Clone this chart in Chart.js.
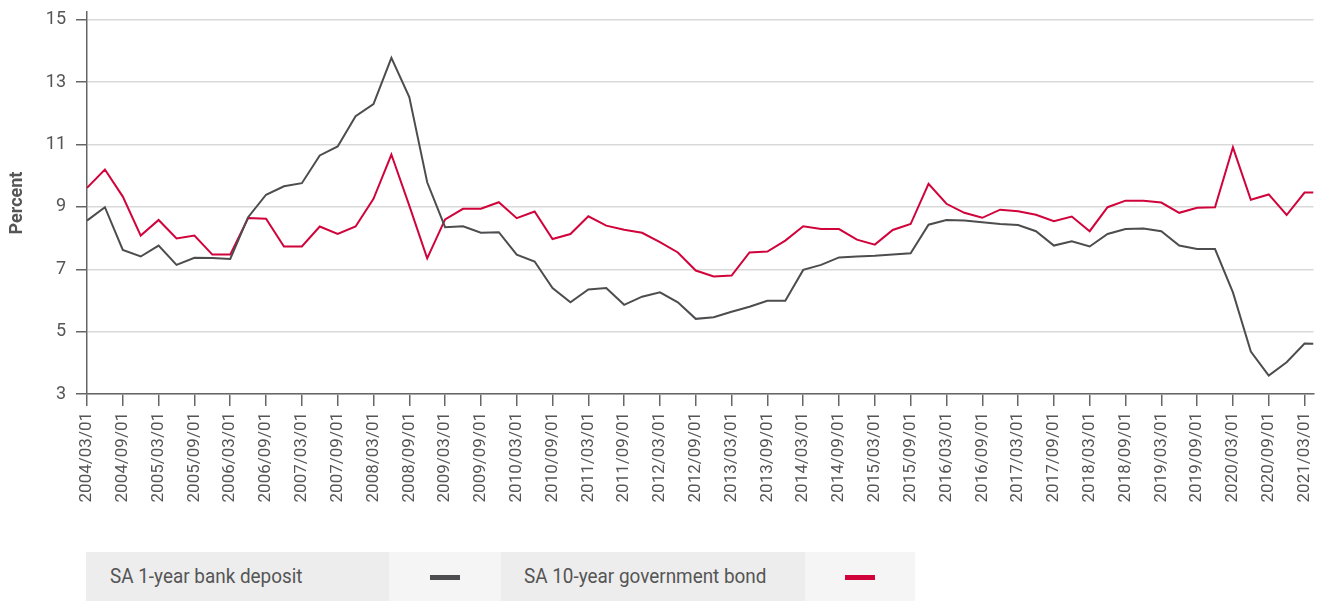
<!DOCTYPE html>
<html>
<head>
<meta charset="utf-8">
<script src="https://cdn.jsdelivr.net/npm/chart.js@4.4.0/dist/chart.umd.min.js"></script>
<style>
    body { margin: 0; background: #fff; font-family: Roboto, sans-serif; }
    #wrap { position: relative; width: 1321px; height: 601px; overflow: hidden; }
    #chartBox { position: absolute; left: 0; top: 0; width: 1321px; height: 548px; }
    .leg { position: absolute; top: 552px; height: 49px; }
    .leg-text { background: #ededed; color: #555; font-size: 21px; line-height: 49px; white-space: nowrap; box-sizing: border-box; }
    .leg-text span { display: inline-block; transform: scaleX(0.9); transform-origin: left center; }
    .leg-swatch { background: #f5f5f5; }
    .leg-swatch div { position: absolute; left: 50%; top: 50%; width: 30px; height: 5px; margin: -2px 0 0 -15px; }
</style>
</head>
<body>
<div id="wrap">
    <div id="chartBox"><canvas id="myChart"></canvas></div>
    <div class="leg leg-text" style="left:86px;width:303px;padding-left:24px;"><span>SA 1-year bank deposit</span></div>
    <div class="leg leg-swatch" style="left:389px;width:112px;"><div id="swatch-deposit"></div></div>
    <div class="leg leg-text" style="left:501px;width:304px;padding-left:23px;"><span>SA 10-year government bond</span></div>
    <div class="leg leg-swatch" style="left:805px;width:110px;"><div id="swatch-bond"></div></div>
</div>
<script>
// quarterly yields, percent
const deposit = [
    8.56, 8.99, 7.62, 7.41, 7.76, 7.14, 7.37, 7.36, 7.33, 8.67,
    9.39, 9.66, 9.76, 10.65, 10.94, 11.91, 12.30, 13.78, 12.52, 9.79,
    8.35, 8.38, 8.17, 8.19, 7.47, 7.25, 6.40, 5.94, 6.35, 6.40,
    5.86, 6.12, 6.26, 5.94, 5.41, 5.46, 5.64, 5.80, 5.99, 5.99,
    6.98, 7.14, 7.38, 7.41, 7.43, 7.47, 7.51, 8.43, 8.58, 8.56,
    8.51, 8.45, 8.42, 8.22, 7.76, 7.90, 7.73, 8.13, 8.29, 8.31,
    8.22, 7.76, 7.65, 7.65, 6.26, 4.36, 3.59, 4.02, 4.62, 4.61
];
const bond = [
    9.61, 10.20, 9.33, 8.08, 8.58, 7.99, 8.08, 7.47, 7.47, 8.64,
    8.62, 7.73, 7.73, 8.37, 8.13, 8.37, 9.26, 10.68, 9.04, 7.35,
    8.60, 8.94, 8.94, 9.15, 8.64, 8.85, 7.97, 8.13, 8.70, 8.40,
    8.27, 8.17, 7.87, 7.54, 6.96, 6.77, 6.80, 7.54, 7.57, 7.92,
    8.38, 8.29, 8.29, 7.95, 7.79, 8.26, 8.45, 9.74, 9.10, 8.81,
    8.65, 8.91, 8.86, 8.75, 8.54, 8.69, 8.22, 8.99, 9.20, 9.20,
    9.14, 8.81, 8.97, 8.99, 10.91, 9.23, 9.40, 8.74, 9.46, 9.46
];

const tickLabels = [
    "2004/03/01", "2004/09/01", "2005/03/01", "2005/09/01", "2006/03/01",
    "2006/09/01", "2007/03/01", "2007/09/01", "2008/03/01", "2008/09/01",
    "2009/03/01", "2009/09/01", "2010/03/01", "2010/09/01", "2011/03/01",
    "2011/09/01", "2012/03/01", "2012/09/01", "2013/03/01", "2013/09/01",
    "2014/03/01", "2014/09/01", "2015/03/01", "2015/09/01", "2016/03/01",
    "2016/09/01", "2017/03/01", "2017/09/01", "2018/03/01", "2018/09/01",
    "2019/03/01", "2019/09/01", "2020/03/01", "2020/09/01", "2021/03/01"
];
const yTicks = [3, 5, 7, 9, 11, 13, 15];

const GREY = '#4d4d50';
const RED = '#d0033b';
const TEXT = '#555555';
const AXIS = '#666666';

// observation dates: quarter starts, plus the latest reading
const pointDates = [];
for (let y = 2004; y <= 2021; y++) {
    for (const m of ['03', '06', '09', '12']) {
        if (y === 2021 && m !== '03') continue;
        pointDates.push(y + '/' + m + '/01');
    }
}
pointDates.push('2021/04/16');

// months since 2004/03/01
function monthOffset(s) {
    const p = s.split('/').map(Number);
    return (p[0] - 2004) * 12 + (p[1] - 3) + (p[2] - 1) / 30;
}

function toPoints(values) {
    return values.map(function(v, i) {
        return {x: monthOffset(pointDates[i]), y: v};
    });
}

// labels may spill outside the plot, don't shrink it for them
function noEdgePadding(scale) {
    scale.paddingLeft = 0;
    scale.paddingRight = 0;
    scale.paddingTop = 0;
    scale.paddingBottom = 0;
}

document.getElementById('swatch-deposit').style.background = GREY;
document.getElementById('swatch-bond').style.background = RED;

const config = {
    type: 'line',
    data: {
        datasets: [
            {label: 'SA 1-year bank deposit', data: toPoints(deposit), borderColor: GREY, borderWidth: 2},
            {label: 'SA 10-year government bond', data: toPoints(bond), borderColor: RED, borderWidth: 2},
        ],
    },
    options: {
        responsive: true,
        maintainAspectRatio: false,
        animation: false,
        elements: {
            point: {radius: 0},
            line: {tension: 0},
        },
        layout: {padding: {top: 12, right: 7.5, left: 0, bottom: 0}},
        plugins: {
            legend: {display: false},
            tooltip: {enabled: false},
        },
        scales: {
            x: {
                type: 'linear',
                min: 0,
                max: monthOffset(pointDates[pointDates.length - 1]),
                afterBuildTicks: function(scale) {
                    scale.ticks = tickLabels.map(function(l) { return {value: monthOffset(l)}; });
                },
                afterFit: function(scale) {
                    scale.height = 154;
                    noEdgePadding(scale);
                },
                ticks: {
                    autoSkip: false,
                    minRotation: 90,
                    maxRotation: 90,
                    padding: 6,
                    color: TEXT,
                    font: {family: 'Roboto', size: 17},
                    callback: function(value, index) { return tickLabels[index]; },
                },
                grid: {drawOnChartArea: false, tickLength: 12, tickColor: AXIS, lineWidth: 1.5},
                border: {color: AXIS, width: 1.5},
            },
            y: {
                min: 3,
                max: 15.25,
                afterBuildTicks: function(scale) {
                    scale.ticks = yTicks.map(function(v) { return {value: v}; });
                },
                afterFit: function(scale) {
                    scale.width = 87;
                    noEdgePadding(scale);
                },
                ticks: {
                    padding: 10,
                    color: TEXT,
                    font: {family: 'Roboto', size: 18},
                },
                grid: {color: '#d9d9d9', lineWidth: 1.5, tickLength: 11, tickColor: AXIS},
                border: {color: AXIS, width: 1.5},
                title: {
                    display: true,
                    text: 'Percent',
                    color: TEXT,
                    padding: 7,
                    font: {family: 'Roboto', size: 18, weight: 'bold'},
                },
            },
        },
    },
};

const myChart = new Chart(document.getElementById('myChart'), config);
</script>
</body>
</html>
